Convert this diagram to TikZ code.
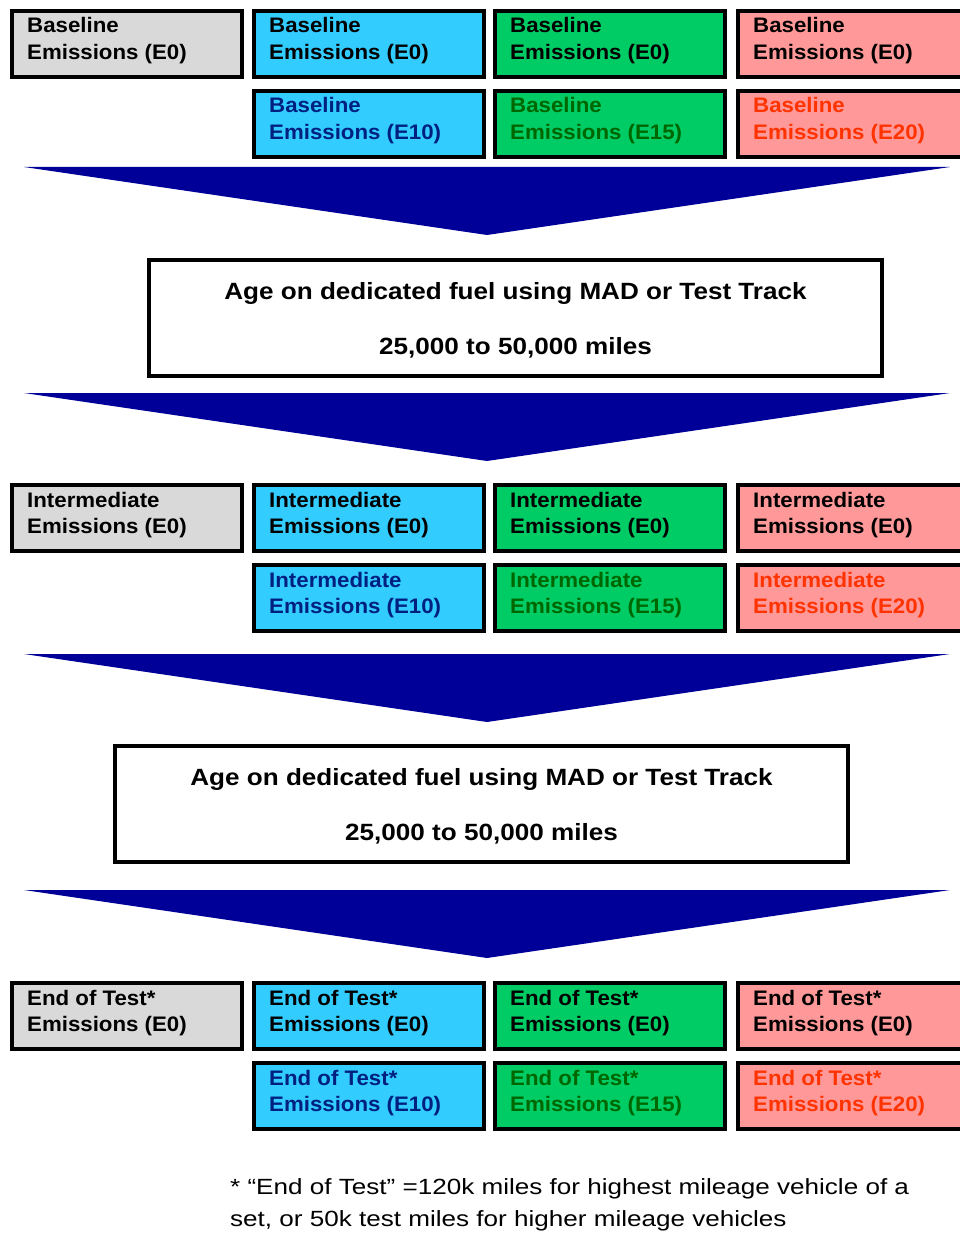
\documentclass[tikz,border=0pt]{standalone}
\usepackage{fontspec}
\setmainfont{Liberation Sans}
\newfontfamily\bxfont{Liberation Sans}[FakeStretch=1.06]
\newfontfamily\agefont{Liberation Sans}[FakeStretch=1.11]
\newfontfamily\notefont{Liberation Sans}[FakeStretch=1.185]
\usetikzlibrary{calc}
\definecolor{cgray}{HTML}{D9D9D9}
\definecolor{cblue}{HTML}{33CCFF}
\definecolor{cgreen}{HTML}{00CC66}
\definecolor{cpink}{HTML}{FF9999}
\definecolor{tblue}{RGB}{0,32,128}
\definecolor{tgreen}{RGB}{0,102,0}
\definecolor{tred}{RGB}{255,51,0}
\definecolor{arrowblue}{RGB}{0,0,153}
\tikzset{
  ebx/.style={draw=black, line width=3.6pt, minimum width=230.4pt, minimum height=66.4pt, inner sep=0pt, anchor=north west},
  etx/.style={inner sep=0pt, anchor=base west, font=\bxfont\bfseries\fontsize{21}{26}\selectfont},
  agebox/.style={draw=black, line width=3.6pt, minimum width=733.4pt, minimum height=116.4pt, inner sep=0pt, anchor=north west, fill=white},
  agetx/.style={inner sep=0pt, anchor=base, font=\agefont\bfseries\fontsize{23.5}{26}\selectfont},
  notetx/.style={inner sep=0pt, anchor=base west, font=\notefont\fontsize{22}{32}\selectfont},
  bigarrow/.style={fill=arrowblue, draw=none}
}
\newcommand\ebox[7]{%
  \node[ebx, fill=#4] (#1) at (#2,#3) {};
  \node[etx, text=#5] (#1a) at ($(#1.north west)+(17,24)$) {#6};
  \node[etx, text=#5] (#1b) at ($(#1.north west)+(17,50.5)$) {#7};
}
\newcommand\bigarr[2]{% name, top y
  \coordinate (#1l) at (24,#2);
  \coordinate (#1r) at (950,#2);
  \coordinate (#1p) at (487,#2+68);
  \fill[bigarrow] (#1l) -- (#1r) -- (#1p) -- cycle;
}
\begin{document}
\begin{tikzpicture}[x=1pt,y=-1pt]
\fill[white] (0,0) rectangle (959,1233);
\useasboundingbox (0,0) rectangle (959,1233);

% Row 1/2 : Baseline
\ebox{a1}{10}{9}{cgray}{black}{Baseline}{Emissions (E0)}
\ebox{a2}{252}{9}{cblue}{black}{Baseline}{Emissions (E0)}
\ebox{a3}{493}{9}{cgreen}{black}{Baseline}{Emissions (E0)}
\ebox{a4}{736}{9}{cpink}{black}{Baseline}{Emissions (E0)}
\ebox{b2}{252}{89}{cblue}{tblue}{Baseline}{Emissions (E10)}
\ebox{b3}{493}{89}{cgreen}{tgreen}{Baseline}{Emissions (E15)}
\ebox{b4}{736}{89}{cpink}{tred}{Baseline}{Emissions (E20)}

\bigarr{arA}{167}

\node[agebox] (age1) at (147,258) {};
\node[agetx] (age1a) at ($(age1.north)+(0,41.5)$) {Age on dedicated fuel using MAD or Test Track};
\node[agetx] (age1b) at ($(age1.north)+(0,96.5)$) {25,000 to 50,000 miles};

\bigarr{arB}{393}

% Row 3/4 : Intermediate
\ebox{c1}{10}{483}{cgray}{black}{Intermediate}{Emissions (E0)}
\ebox{c2}{252}{483}{cblue}{black}{Intermediate}{Emissions (E0)}
\ebox{c3}{493}{483}{cgreen}{black}{Intermediate}{Emissions (E0)}
\ebox{c4}{736}{483}{cpink}{black}{Intermediate}{Emissions (E0)}
\ebox{d2}{252}{563}{cblue}{tblue}{Intermediate}{Emissions (E10)}
\ebox{d3}{493}{563}{cgreen}{tgreen}{Intermediate}{Emissions (E15)}
\ebox{d4}{736}{563}{cpink}{tred}{Intermediate}{Emissions (E20)}

\bigarr{arC}{654}

\node[agebox] (age2) at (113,744) {};
\node[agetx] (age2a) at ($(age2.north)+(0,41.5)$) {Age on dedicated fuel using MAD or Test Track};
\node[agetx] (age2b) at ($(age2.north)+(0,96.5)$) {25,000 to 50,000 miles};

\bigarr{arD}{890}

% Row 5/6 : End of Test
\ebox{e1}{10}{981}{cgray}{black}{End of Test*}{Emissions (E0)}
\ebox{e2}{252}{981}{cblue}{black}{End of Test*}{Emissions (E0)}
\ebox{e3}{493}{981}{cgreen}{black}{End of Test*}{Emissions (E0)}
\ebox{e4}{736}{981}{cpink}{black}{End of Test*}{Emissions (E0)}
\ebox{f2}{252}{1061}{cblue}{tblue}{End of Test*}{Emissions (E10)}
\ebox{f3}{493}{1061}{cgreen}{tgreen}{End of Test*}{Emissions (E15)}
\ebox{f4}{736}{1061}{cpink}{tred}{End of Test*}{Emissions (E20)}

\node[notetx] (note1) at (230,1194) {* “End of Test” =120k miles for highest mileage vehicle of a};
\node[notetx] (note2) at (230,1226) {set, or 50k test miles for higher mileage vehicles};
\end{tikzpicture}
\end{document}
